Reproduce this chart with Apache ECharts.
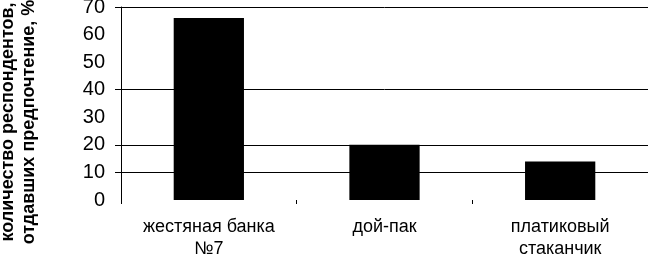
<!DOCTYPE html>
<html>
<head>
<meta charset="utf-8">
<script src="https://cdn.jsdelivr.net/npm/echarts@6/dist/echarts.min.js"></script>
<style>
html,body{margin:0;padding:0;background:#fff;}
#c{width:648px;height:258px;}
</style>
</head>
<body>
<div id="c"></div>
<script>
const categories = ['жестяная банка\n№7', 'дой-пак', 'платиковый\nстаканчик'];
const values = [66, 20, 14];
const yTickValues = [0, 10, 20, 30, 40, 50, 60, 70];
const gridValues = [10, 20, 40, 70];
const yTitleLines = ['количество респондентов,', 'отдавших предпочтение, %'];

const chart = echarts.init(document.getElementById('c'), null, {renderer: 'canvas'});
chart.setOption({
  animation: false,
  backgroundColor: '#fff',
  grid: {left: 121, right: 0, top: 7, bottom: 58, containLabel: false, outerBoundsMode: 'none'},
  xAxis: {
    type: 'category',
    data: categories,
    axisLine: {show: false},
    axisTick: {show: true, length: 4, lineStyle: {color: '#000', width: 1}},
    axisLabel: {
      color: '#000', fontFamily: 'Liberation Sans, Arial', fontSize: 18,
      lineHeight: 22, margin: 16, interval: 0
    },
    splitLine: {show: false}
  },
  yAxis: {
    type: 'value',
    min: 0, max: 70, interval: 10,
    axisLine: {show: true, lineStyle: {color: '#000', width: 1}},
    axisTick: {show: true, length: 6, inside: false, customValues: gridValues, lineStyle: {color: '#000', width: 1}},
    axisLabel: {
      color: '#000', fontFamily: 'Liberation Sans, Arial', fontSize: 20,
      margin: 16, customValues: yTickValues
    },
    splitLine: {show: true, lineStyle: {color: '#000', width: 1}}
  },
  graphic: [
    {
      type: 'text',
      x: -2, y: 122,
      rotation: Math.PI / 2,
      style: {
        text: yTitleLines.join('\n'),
        fill: '#000',
        font: 'bold 18px "Liberation Sans", Arial',
        lineHeight: 21,
        align: 'center',
        verticalAlign: 'top'
      }
    }
  ],
  series: [{
    type: 'bar',
    data: values,
    barWidth: '40%',
    itemStyle: {color: '#000'}
  }]
});
</script>
</body>
</html>
